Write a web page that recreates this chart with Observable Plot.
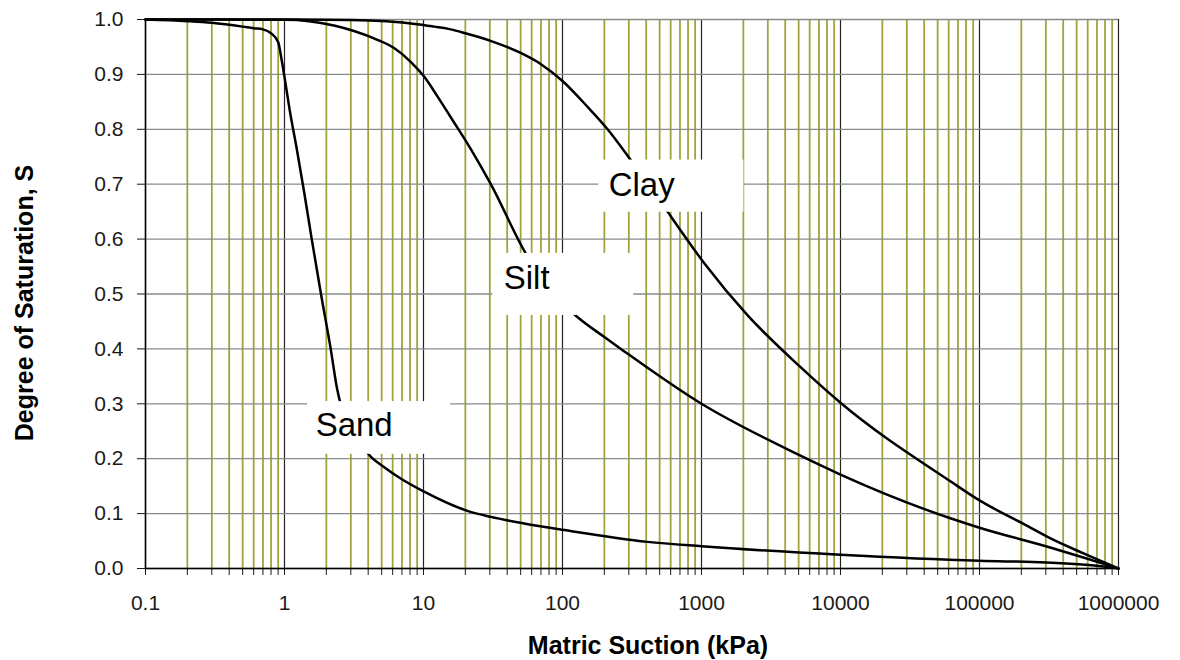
<!DOCTYPE html>
<html>
<head>
<meta charset="utf-8">
<script src="https://cdn.jsdelivr.net/npm/d3@7"></script>
<script src="https://cdn.jsdelivr.net/npm/@observablehq/plot@0.6"></script>
<style>
  body { margin: 0; background: #fff; }
</style>
</head>
<body>
<div id="chart"></div>
<script>
// ---- axis ticks ----
const decades = [0.1, 1, 10, 100, 1000, 10000, 100000, 1000000];
const decadeLabels = ["0.1", "1", "10", "100", "1000", "10000", "100000", "1000000"];
const minorMultipliers = [2, 3, 4, 5, 6, 7, 8, 9];
const yTicks = [0, 0.1, 0.2, 0.3, 0.4, 0.5, 0.6, 0.7, 0.8, 0.9, 1.0];

// ---- series ----
const sandSuction = [0.1, 0.2, 0.3, 0.5, 0.6, 0.7, 0.8, 0.9, 0.95, 1.0, 1.09, 1.23, 1.39, 1.57, 1.83, 2.15, 2.4, 2.53, 3.2, 4.03, 5.19, 6.85, 10.1, 20.7, 30.5, 52.9, 103, 409, 1000, 10000, 100000, 300000, 700000, 1000000];
const sandSat     = [1.0, 0.997, 0.994, 0.987, 0.984, 0.982, 0.975, 0.959, 0.929, 0.895, 0.835, 0.762, 0.683, 0.60, 0.50, 0.40, 0.325, 0.30, 0.25, 0.208, 0.185, 0.164, 0.14, 0.105, 0.094, 0.082, 0.07, 0.0485, 0.0405, 0.025, 0.014, 0.011, 0.005, 0.0];

const siltSuction = [0.1, 1, 1.5, 2.27, 3.16, 4.66, 6.14, 8.09, 10.1, 12.6, 15.7, 21.9, 30.5, 54.4, 83, 128, 199, 263, 1000, 5200, 10000, 62500, 100000, 327000, 566000, 1000000];
const siltSat     = [1.0, 0.9995, 0.997, 0.989, 0.979, 0.963, 0.948, 0.923, 0.896, 0.86, 0.822, 0.764, 0.70, 0.574, 0.505, 0.458, 0.422, 0.40, 0.30, 0.205, 0.171, 0.091, 0.0743, 0.0379, 0.0197, 0.0];

const claySuction = [0.1, 1, 3, 9, 11.9, 15.7, 20, 30, 50, 70, 100, 150, 211, 310, 420, 570, 1047, 2148, 5000, 10000, 62500, 100000, 209000, 327000, 566000, 1000000];
const claySat     = [1.0, 1.0, 0.999, 0.9915, 0.987, 0.982, 0.975, 0.9616, 0.939, 0.9186, 0.888, 0.842, 0.80, 0.744, 0.699, 0.65, 0.556, 0.461, 0.37, 0.302, 0.158, 0.124, 0.0807, 0.0543, 0.027, 0.0];

// ---- annotation labels ----
const labelNames = ["Clay", "Silt", "Sand"];
const labelSuction = [215, 37.8, 1.675];
const labelSat = [0.697, 0.528, 0.26];
const boxX1 = [182, 31.5, 1.467];
const boxX2 = [2018, 326, 15.7];
const boxY1 = [0.649, 0.461, 0.208];
const boxY2 = [0.744, 0.574, 0.304];

const toRows = (xs, ys) => xs.map((x, i) => ({x, y: ys[i]}));
const sand = toRows(sandSuction, sandSat);
const silt = toRows(siltSuction, siltSat);
const clay = toRows(claySuction, claySat);
const labels = labelNames.map((t, i) => ({text: t, x: labelSuction[i], y: labelSat[i]}));
const boxes = labelNames.map((t, i) => ({x1: boxX1[i], x2: boxX2[i], y1: boxY1[i], y2: boxY2[i]}));
const minor = decades.slice(0, -1).flatMap(d => minorMultipliers.map(k => +(d * k).toPrecision(3)));
const xTickFormat = d => { const i = decades.indexOf(d); return i >= 0 ? decadeLabels[i] : ""; };

const chart = Plot.plot({
  width: 1180,
  height: 660,
  marginLeft: 145,
  marginRight: 62,
  marginTop: 19,
  marginBottom: 92,
  style: {fontFamily: "'Liberation Sans', Arial, sans-serif", fontSize: "21px", color: "#1a1a1a", background: "#fff"},
  x: {type: "log", domain: [0.1, 1000000]},
  y: {domain: [0, 1]},
  marks: [
    Plot.ruleX(minor, {stroke: "#a3a33c", strokeWidth: 1.8}),
    Plot.ruleX(decades, {stroke: "#222", strokeWidth: 1.2}),
    Plot.ruleY(yTicks, {stroke: "#8a8a8a", strokeWidth: 1.3}),
    Plot.axisX({ticks: [...decades, ...minor], tickSize: 7, tickPadding: 20, tickFormat: xTickFormat, label: null}),
    Plot.axisY({ticks: yTicks, tickSize: 8, tickPadding: 14, tickFormat: d3.format(".1f"), label: null}),
    Plot.ruleY([0], {stroke: "#000", strokeWidth: 1.5}),
    Plot.ruleX([0.1], {stroke: "#000", strokeWidth: 1.5}),
    Plot.line(sand, {x: "x", y: "y", curve: "monotone-x", stroke: "#000", strokeWidth: 2.5}),
    Plot.line(silt, {x: "x", y: "y", curve: "monotone-x", stroke: "#000", strokeWidth: 2.5}),
    Plot.line(clay, {x: "x", y: "y", curve: "monotone-x", stroke: "#000", strokeWidth: 2.5}),
    Plot.rect(boxes, {x1: "x1", x2: "x2", y1: "y1", y2: "y2", fill: "#fff"}),
    Plot.text(labels, {x: "x", y: "y", text: "text", textAnchor: "start", lineAnchor: "middle", fontSize: 33, fill: "#000"}),
    Plot.text(["Matric Suction (kPa)"], {frameAnchor: "bottom", textAnchor: "middle", lineAnchor: "middle", dx: 16, dy: 77, fontWeight: "bold", fontSize: 25, fill: "#000"}),
    Plot.text(["Degree of Saturation, S"], {frameAnchor: "left", textAnchor: "middle", lineAnchor: "middle", rotate: -90, dx: -121, dy: 9, fontWeight: "bold", fontSize: 25, fill: "#000"})
  ]
});
document.getElementById("chart").appendChild(chart);
</script>
</body>
</html>
